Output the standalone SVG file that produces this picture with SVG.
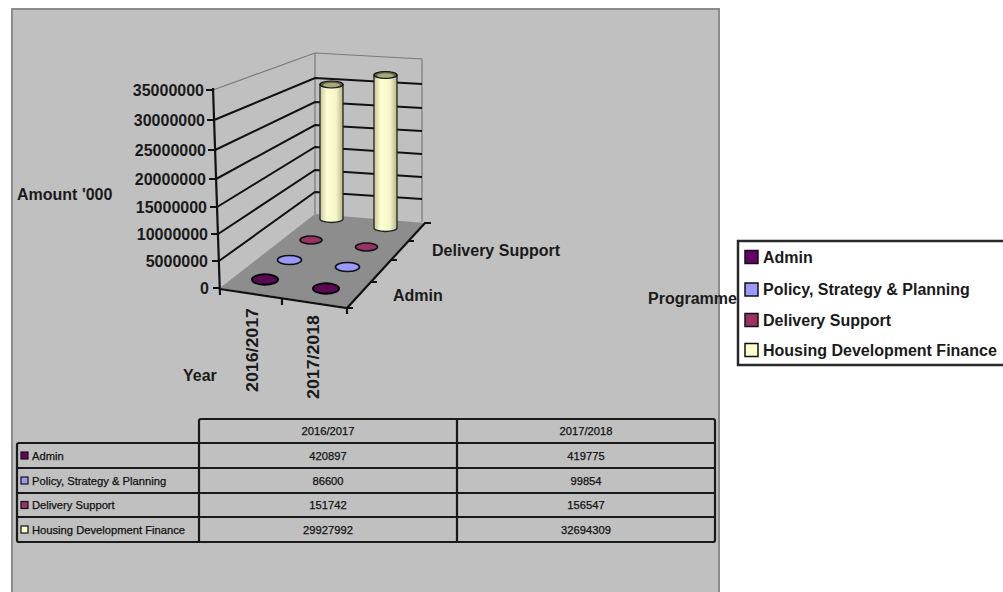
<svg xmlns="http://www.w3.org/2000/svg" width="1003" height="592" viewBox="0 0 1003 592">
<defs>
<style>
.lbl{font-family:"Liberation Sans",Arial,sans-serif;font-weight:bold;font-size:16px;fill:#1a1a1a}
.tbl{font-family:"Liberation Sans",Arial,sans-serif;font-size:11.2px;fill:#111;stroke:#111;stroke-width:0.25}
.grid{stroke:#111;stroke-width:2;fill:none}
.edge{stroke:#7a7a7a;stroke-width:1.2;fill:none}
.axis{stroke:#111;stroke-width:2.2;fill:none}
.tline{stroke:#1a1a1a;stroke-width:2.2;fill:none}
.cyl{fill:url(#cylG);stroke:#222;stroke-width:1.3}
</style>
<linearGradient id="cylG" x1="0" y1="0" x2="1" y2="0">
<stop offset="0" stop-color="#c9c99a"/>
<stop offset="0.3" stop-color="#ffffd6"/>
<stop offset="0.7" stop-color="#f4f4c6"/>
<stop offset="1" stop-color="#b5b588"/>
</linearGradient>
</defs>
<rect x="0" y="0" width="1003" height="592" fill="#ffffff"/>
<rect id="chartArea" x="12" y="9" width="707" height="600" fill="#c0c0c0" stroke="#8c8c8c" stroke-width="2"/>

<g id="walls">
<polygon points="220,288 315,214 425,223 347,307" fill="#8d8d8d"/>
<path class="edge" d="M213,90 L315,53 L422,59 L422,222 M315,53 L315,214"/>
<path class="grid" d="M214.1,120 L315,78 L422,84"/>
<path class="grid" d="M215.1,150 L315,102 L422,108"/>
<path class="grid" d="M216.1,179 L315,125 L422,131"/>
<path class="grid" d="M217.1,207 L315,147 L422,154"/>
<path class="grid" d="M218.1,234 L315,170 L422,177"/>
<path class="grid" d="M219,261 L315,192 L422,199"/>
</g>

<g id="axes">
<path class="axis" d="M213,88 L220,295"/>
<path class="axis" d="M206,90 H213 M207,120 H214 M208,150 H215 M209,179 H216 M210,207 H217 M211,234 H218 M212,261 H219 M213,288 H220"/>
<path class="axis" d="M220,289 L347,308 L425,223 L431,223"/>
<path class="axis" d="M282,298 V305 M347,308 V314 M347,308 H353 M371,282 H377 M391,260 H397 M408,241 H414"/>
<text class="lbl" x="204" y="96" text-anchor="end">35000000</text>
<text class="lbl" x="205" y="126" text-anchor="end">30000000</text>
<text class="lbl" x="206" y="156" text-anchor="end">25000000</text>
<text class="lbl" x="206" y="185" text-anchor="end">20000000</text>
<text class="lbl" x="207" y="213" text-anchor="end">15000000</text>
<text class="lbl" x="208" y="240" text-anchor="end">10000000</text>
<text class="lbl" x="208" y="267" text-anchor="end">5000000</text>
<text class="lbl" x="209" y="294" text-anchor="end">0</text>
<text class="lbl" x="17" y="200">Amount '000</text>
<text class="lbl" x="183" y="381">Year</text>
<text class="lbl" transform="translate(257.5,308) rotate(-90)" text-anchor="end" textLength="84" lengthAdjust="spacingAndGlyphs">2016/2017</text>
<text class="lbl" transform="translate(319,315) rotate(-90)" text-anchor="end" textLength="84" lengthAdjust="spacingAndGlyphs">2017/2018</text>
<text class="lbl" x="432" y="256">Delivery Support</text>
<text class="lbl" x="393" y="301">Admin</text>
<text class="lbl" x="648" y="304">Programme</text>
</g>

<g id="series-housing">
<path class="cyl" d="M320,84.5 L320,219 A11.5,3.5 0 0 0 343,219 L343,84.5 Z"/>
<ellipse cx="331.5" cy="84.5" rx="11.5" ry="3.5" fill="#5e5e40" stroke="#111" stroke-width="1.2"/>
<ellipse cx="331.5" cy="85" rx="8.5" ry="2.2" fill="#a8a87c"/>
<path class="cyl" d="M374,75 L374,228 A11.5,3.5 0 0 0 397,228 L397,75 Z"/>
<ellipse cx="385.5" cy="75" rx="11.5" ry="3.5" fill="#5e5e40" stroke="#111" stroke-width="1.2"/>
<ellipse cx="385.5" cy="75.5" rx="8.5" ry="2.2" fill="#a8a87c"/>
</g>
<g id="series-delivery">
<ellipse cx="311" cy="240" rx="11" ry="4" fill="#993366" stroke="#111" stroke-width="1.6"/>
<ellipse cx="366.5" cy="247" rx="11" ry="4" fill="#993366" stroke="#111" stroke-width="1.6"/>
</g>
<g id="series-policy">
<ellipse cx="289.5" cy="260" rx="12" ry="4.5" fill="#9999ff" stroke="#111" stroke-width="1.6"/>
<ellipse cx="347.5" cy="267" rx="12" ry="4.5" fill="#9999ff" stroke="#111" stroke-width="1.6"/>
</g>
<g id="series-admin">
<ellipse cx="265" cy="279.5" rx="13" ry="5.2" fill="#5a0a52" stroke="#000" stroke-width="2"/>
<ellipse cx="326" cy="288.5" rx="13" ry="5.2" fill="#5a0a52" stroke="#000" stroke-width="2"/>
</g>

<g id="legend">
<rect x="738" y="241" width="280" height="124" fill="#ffffff" stroke="#2a2a2a" stroke-width="2.5"/>
<rect x="745" y="250.5" width="13" height="13" fill="#660066" stroke="#111" stroke-width="1.5"/>
<rect x="745" y="283" width="13" height="13" fill="#9999ff" stroke="#111" stroke-width="1.5"/>
<rect x="745" y="313.5" width="13" height="13" fill="#993366" stroke="#111" stroke-width="1.5"/>
<rect x="745" y="343.5" width="13" height="13" fill="#ffffcc" stroke="#111" stroke-width="1.5"/>
<text class="lbl" x="763" y="263">Admin</text>
<text class="lbl" x="763" y="295">Policy, Strategy &amp; Planning</text>
<text class="lbl" x="763" y="325.5">Delivery Support</text>
<text class="lbl" x="763" y="356">Housing Development Finance</text>
</g>

<g id="dataTable">
<path class="tline" d="M199,443 V421 Q199,419 201,419 H713 Q715,419 715,421 V540 Q715,542 713,542 H19 Q17,542 17,540 V445 Q17,443 19,443 H715"/>
<path class="tline" d="M17,468 H715 M17,493 H715 M17,517 H715 M199,443 V542 M457,419 V542"/>
<rect x="21" y="452" width="7" height="7" fill="#660066" stroke="#111" stroke-width="1.2"/>
<rect x="21" y="477" width="7" height="7" fill="#9999ff" stroke="#111" stroke-width="1.2"/>
<rect x="21" y="501.5" width="7" height="7" fill="#993366" stroke="#111" stroke-width="1.2"/>
<rect x="21" y="526" width="7" height="7" fill="#ffffcc" stroke="#111" stroke-width="1.2"/>
<text class="tbl" x="32" y="459.5">Admin</text>
<text class="tbl" x="32" y="484.5">Policy, Strategy &amp; Planning</text>
<text class="tbl" x="32" y="509">Delivery Support</text>
<text class="tbl" x="32" y="533.5">Housing Development Finance</text>
<text class="tbl" x="328" y="435" text-anchor="middle">2016/2017</text>
<text class="tbl" x="586" y="435" text-anchor="middle">2017/2018</text>
<text class="tbl" x="328" y="459.5" text-anchor="middle">420897</text>
<text class="tbl" x="586" y="459.5" text-anchor="middle">419775</text>
<text class="tbl" x="328" y="484.5" text-anchor="middle">86600</text>
<text class="tbl" x="586" y="484.5" text-anchor="middle">99854</text>
<text class="tbl" x="328" y="509" text-anchor="middle">151742</text>
<text class="tbl" x="586" y="509" text-anchor="middle">156547</text>
<text class="tbl" x="328" y="533.5" text-anchor="middle">29927992</text>
<text class="tbl" x="586" y="533.5" text-anchor="middle">32694309</text>
</g>
</svg>
